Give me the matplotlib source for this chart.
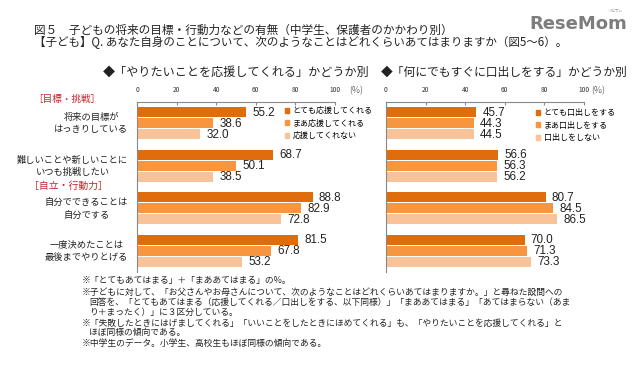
import numpy as np
import matplotlib
matplotlib.use("Agg")
import matplotlib.pyplot as plt
from matplotlib.patches import Patch

plt.rcParams['font.family'] = ['Noto Sans CJK JP', 'DejaVu Sans']

W, H = 640, 367

categories = ["将来の目標が\nはっきりしている",
              "難しいことや新しいことに\nいつも挑戦したい",
              "自分でできることは\n自分でする",
              "一度決めたことは\n最後までやりとげる"]

# 「やりたいことを応援してくれる」かどうか別
support_labels = ["とても応援してくれる", "まあ応援してくれる", "応援してくれない"]
support_very = [55.2, 68.7, 88.8, 81.5]
support_some = [38.6, 50.1, 82.9, 67.8]
support_not = [32.0, 38.5, 72.8, 53.2]

# 「何にでもすぐに口出しをする」かどうか別
interfere_labels = ["とても口出しをする", "まあ口出しをする", "口出しをしない"]
interfere_very = [45.7, 56.6, 80.7, 70.0]
interfere_some = [44.3, 56.3, 84.5, 71.3]
interfere_not = [44.5, 56.2, 86.5, 73.3]

ticks = [0, 20, 40, 60, 80, 100]
colors = ['#DF6D0B', '#F7963F', '#F9C39A']

notes = [
    ("※「とてもあてはまる」＋「まああてはまる」の%。", 82),
    ("※子どもに対して、「お父さんやお母さんについて、次のようなことはどれくらいあてはまりますか。」と尋ねた設問への", 82),
    ("回答を、「とてもあてはまる（応援してくれる／口出しをする、以下同様）」「まああてはまる」「あてはまらない（あま", 89),
    ("り＋まったく）」に３区分している。", 89),
    ("※「失敗したときにはげましてくれる」「いいことをしたときにほめてくれる」も、「やりたいことを応援してくれる」と", 82),
    ("ほぼ同様の傾向である。", 89),
    ("※中学生のデータ。小学生、高校生もほぼ同様の傾向である。", 82),
]
note_y = [281, 292, 302, 312, 323, 332, 343]


def fx(x):
    return x / W


def fy(y):
    return 1 - y / H


fig = plt.figure(figsize=(W / 100, H / 100), dpi=100)
fig.patch.set_facecolor('white')

# titles
fig.text(fx(34), fy(30), "図５　子どもの将来の目標・行動力などの有無（中学生、保護者のかかわり別）",
         fontsize=8.4, va='center', ha='left', color='#222222')
fig.text(fx(34), fy(43), "【子ども】Q. あなた自身のことについて、次のようなことはどれくらいあてはまりますか（図5～6）。",
         fontsize=8.3, va='center', ha='left', color='#222222')
fig.text(fx(103), fy(72), "◆「やりたいことを応援してくれる」かどうか別",
         fontsize=8.7, va='center', ha='left', color='#222222')
fig.text(fx(381), fy(72), "◆「何にでもすぐに口出しをする」かどうか別",
         fontsize=8.5, va='center', ha='left', color='#222222')

# logo
fig.text(fx(578), fy(24), "ReseMom", fontsize=13, fontweight='bold', color='#7d7d7d',
         ha='center', va='center', family='DejaVu Sans')
fig.text(fx(615), fy(11), "リセマム", fontsize=2.5, color='#8a8a8a', ha='center', va='center')

# section labels
fig.text(fx(67), fy(99), "［目標・挑戦］", fontsize=6.9, color='#C0282D', ha='center', va='center')
fig.text(fx(68), fy(186), "［自立・行動力］", fontsize=7.1, color='#C0282D', ha='center', va='center')

top, bottom = 102, 272
step = 11 / 42.5
bh = 10 / 42.5
y = np.arange(len(categories)) + 0.5


def draw_panel(x0, x1, series, labels, legend_xy, pct_x):
    ax = fig.add_axes([fx(x0), fy(bottom), (x1 - x0) / W, (bottom - top) / H])
    for i, vals in enumerate(series):
        pos = y + (i - 1) * step
        ax.barh(pos, vals, height=bh, color=colors[i], label=labels[i])
        for p, v in zip(pos, vals):
            ax.annotate(f"{v:.1f}", (v, p), xytext=(4.3, -0.5), textcoords='offset points',
                        va='center', ha='left', fontsize=8.4, family='Liberation Sans',
                        color='#222222')
    ax.set_xlim(0, 100)
    ax.set_ylim(4, 0)
    ax.xaxis.tick_top()
    ax.set_xticks(ticks)
    ax.set_xticklabels([str(t) for t in ticks])
    ax.tick_params(axis='x', direction='in', length=2.5, width=0.8, color='#888888',
                   labelsize=4.8, pad=5.5, labelcolor='#333333')
    ax.set_yticks([])
    for s in ['bottom', 'right']:
        ax.spines[s].set_visible(False)
    for s in ['top', 'left']:
        ax.spines[s].set_color('#888888')
        ax.spines[s].set_linewidth(0.8)
    ax.patch.set_alpha(0)
    handles = [Patch(color=c) for c in colors]
    ax.legend(handles, labels, loc='upper left', bbox_to_anchor=(fx(legend_xy[0]), fy(legend_xy[1])),
              bbox_transform=fig.transFigure, frameon=False, fontsize=5.8,
              handlelength=0.55, handleheight=0.55, handletextpad=0.4,
              labelspacing=0.45, borderpad=0, borderaxespad=0)
    fig.text(fx(pct_x), fy(91), "(%)", fontsize=6.3, color='#666666', ha='left', va='center')
    return ax


draw_panel(137, 335, [support_very, support_some, support_not], support_labels, (285, 106), 349)
draw_panel(386, 584, [interfere_very, interfere_some, interfere_not], interfere_labels, (536, 108), 591)

# category labels
group_centres = [123, 166, 209, 251]
for cat, yc in zip(categories, group_centres):
    fig.text(fx(128), fy(yc), cat, fontsize=6.7, ha='right', va='center',
             multialignment='center', linespacing=1.45, color='#222222')

# footnotes
for (txt, x), yy in zip(notes, note_y):
    fig.text(fx(x), fy(yy), txt, fontsize=6.35, ha='left', va='center', color='#222222')

fig.savefig("out.png", dpi=100)
